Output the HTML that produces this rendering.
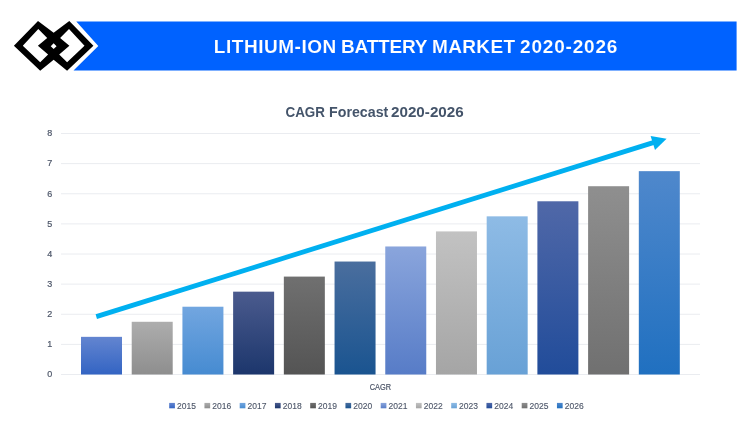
<!DOCTYPE html>
<html><head><meta charset="utf-8"><style>
html,body{margin:0;padding:0;background:#fff;width:750px;height:430px;overflow:hidden}
svg{display:block;filter:blur(0.3px)}
</style></head><body>
<svg width="750" height="430" viewBox="0 0 750 430" font-family="Liberation Sans, sans-serif">
<defs><linearGradient id="g0" x1="0" y1="0" x2="0" y2="1"><stop offset="0" stop-color="#6385d0"/><stop offset="1" stop-color="#3364c3"/></linearGradient><linearGradient id="g1" x1="0" y1="0" x2="0" y2="1"><stop offset="0" stop-color="#adadad"/><stop offset="1" stop-color="#8e8e8e"/></linearGradient><linearGradient id="g2" x1="0" y1="0" x2="0" y2="1"><stop offset="0" stop-color="#72a6e0"/><stop offset="1" stop-color="#468bd1"/></linearGradient><linearGradient id="g3" x1="0" y1="0" x2="0" y2="1"><stop offset="0" stop-color="#4b5b8e"/><stop offset="1" stop-color="#1c366c"/></linearGradient><linearGradient id="g4" x1="0" y1="0" x2="0" y2="1"><stop offset="0" stop-color="#707070"/><stop offset="1" stop-color="#545454"/></linearGradient><linearGradient id="g5" x1="0" y1="0" x2="0" y2="1"><stop offset="0" stop-color="#4a6e9e"/><stop offset="1" stop-color="#1a5490"/></linearGradient><linearGradient id="g6" x1="0" y1="0" x2="0" y2="1"><stop offset="0" stop-color="#8aa5dc"/><stop offset="1" stop-color="#577cc7"/></linearGradient><linearGradient id="g7" x1="0" y1="0" x2="0" y2="1"><stop offset="0" stop-color="#c2c2c2"/><stop offset="1" stop-color="#a5a5a5"/></linearGradient><linearGradient id="g8" x1="0" y1="0" x2="0" y2="1"><stop offset="0" stop-color="#8ebbe5"/><stop offset="1" stop-color="#68a1d6"/></linearGradient><linearGradient id="g9" x1="0" y1="0" x2="0" y2="1"><stop offset="0" stop-color="#5068a8"/><stop offset="1" stop-color="#214c9a"/></linearGradient><linearGradient id="g10" x1="0" y1="0" x2="0" y2="1"><stop offset="0" stop-color="#8f8f8f"/><stop offset="1" stop-color="#707070"/></linearGradient><linearGradient id="g11" x1="0" y1="0" x2="0" y2="1"><stop offset="0" stop-color="#4f88cc"/><stop offset="1" stop-color="#2070c0"/></linearGradient></defs>
<rect width="750" height="430" fill="#fff"/>
<!-- banner -->
<polygon points="76.3,21.4 736.6,21.4 736.6,70.5 73.5,70.5 98.3,45.9" fill="#0062ff"/>
<g fill="#fff" font-weight="bold" font-size="19" stroke="#0062ff" stroke-width="0.1">
<text x="213.8" y="53" letter-spacing="0.54">LITHIUM-ION</text>
<text x="341.0" y="53" letter-spacing="-0.2">BATTERY</text>
<text x="432.0" y="53" letter-spacing="0.36">MARKET</text>
<text x="520.1" y="53" letter-spacing="0.802">2020-2026</text>
</g>
<!-- logo -->
<path fill="#000" fill-rule="evenodd" d="M13.9,45.8 L38,21.1 L53.65,32.8 L69.3,21.1 L93.4,45.8 L67.1,70.7 L53.65,59.7 L40.2,70.7 Z M22.8,45.8 L40.2,62.3 L48.1,54.4 L37.9,45.8 L47.2,38.1 L38.3,29.1 Z M84.5,45.8 L67.1,62.3 L59.2,54.4 L69.4,45.8 L60.1,38.1 L69,29.1 Z M50.75,46.2 L53.65,43.3 L56.55,46.2 L53.65,49.1 Z"/>
<!-- chart title -->
<g fill="#44546a" font-weight="bold" font-size="14.8">
<text x="285.5" y="117.4" textLength="39.5" lengthAdjust="spacingAndGlyphs">CAGR</text>
<text x="329" y="117.4" textLength="59.3" lengthAdjust="spacingAndGlyphs">Forecast</text>
<text x="391" y="117.4" textLength="72.7" lengthAdjust="spacingAndGlyphs">2020-2026</text>
</g>
<g><line x1="61" y1="374.50" x2="700" y2="374.50" stroke="#eaecf0" stroke-width="1"/><line x1="61" y1="344.38" x2="700" y2="344.38" stroke="#eaecf0" stroke-width="1"/><line x1="61" y1="314.25" x2="700" y2="314.25" stroke="#eaecf0" stroke-width="1"/><line x1="61" y1="284.12" x2="700" y2="284.12" stroke="#eaecf0" stroke-width="1"/><line x1="61" y1="254.00" x2="700" y2="254.00" stroke="#eaecf0" stroke-width="1"/><line x1="61" y1="223.88" x2="700" y2="223.88" stroke="#eaecf0" stroke-width="1"/><line x1="61" y1="193.75" x2="700" y2="193.75" stroke="#eaecf0" stroke-width="1"/><line x1="61" y1="163.62" x2="700" y2="163.62" stroke="#eaecf0" stroke-width="1"/><line x1="61" y1="133.50" x2="700" y2="133.50" stroke="#eaecf0" stroke-width="1"/></g>
<g fill="#4d5669" font-size="9" stroke="#4d5669" stroke-width="0.2"><text x="52.2" y="377.30" text-anchor="end">0</text><text x="52.2" y="347.18" text-anchor="end">1</text><text x="52.2" y="317.05" text-anchor="end">2</text><text x="52.2" y="286.93" text-anchor="end">3</text><text x="52.2" y="256.80" text-anchor="end">4</text><text x="52.2" y="226.68" text-anchor="end">5</text><text x="52.2" y="196.55" text-anchor="end">6</text><text x="52.2" y="166.43" text-anchor="end">7</text><text x="52.2" y="136.30" text-anchor="end">8</text></g>
<g><rect x="81.00" y="336.84" width="41" height="37.66" fill="url(#g0)"/><rect x="131.71" y="321.78" width="41" height="52.72" fill="url(#g1)"/><rect x="182.42" y="306.72" width="41" height="67.78" fill="url(#g2)"/><rect x="233.13" y="291.66" width="41" height="82.84" fill="url(#g3)"/><rect x="283.84" y="276.59" width="41" height="97.91" fill="url(#g4)"/><rect x="334.55" y="261.53" width="41" height="112.97" fill="url(#g5)"/><rect x="385.26" y="246.47" width="41" height="128.03" fill="url(#g6)"/><rect x="435.97" y="231.41" width="41" height="143.09" fill="url(#g7)"/><rect x="486.68" y="216.34" width="41" height="158.16" fill="url(#g8)"/><rect x="537.39" y="201.28" width="41" height="173.22" fill="url(#g9)"/><rect x="588.10" y="186.22" width="41" height="188.28" fill="url(#g10)"/><rect x="638.81" y="171.16" width="41" height="203.34" fill="url(#g11)"/></g>
<!-- arrow -->
<line x1="96.3" y1="316.6" x2="654" y2="142.4" stroke="#00b0f0" stroke-width="4.8"/>
<polygon points="666.6,138.7 650.6,135.9 655,149.9" fill="#00b0f0"/>
<text x="369.7" y="390" fill="#4d5669" stroke="#4d5669" stroke-width="0.2" font-size="8.2" textLength="21.3" lengthAdjust="spacingAndGlyphs">CAGR</text>
<g fill="#4d5669" font-size="8.5" stroke="#4d5669" stroke-width="0.12"><rect x="169.20" y="402.9" width="5.7" height="5.4" fill="url(#g0)" stroke="none"/><text x="177.10" y="408.6">2015</text><rect x="204.45" y="402.9" width="5.7" height="5.4" fill="url(#g1)" stroke="none"/><text x="212.35" y="408.6">2016</text><rect x="239.70" y="402.9" width="5.7" height="5.4" fill="url(#g2)" stroke="none"/><text x="247.60" y="408.6">2017</text><rect x="274.95" y="402.9" width="5.7" height="5.4" fill="url(#g3)" stroke="none"/><text x="282.85" y="408.6">2018</text><rect x="310.20" y="402.9" width="5.7" height="5.4" fill="url(#g4)" stroke="none"/><text x="318.10" y="408.6">2019</text><rect x="345.45" y="402.9" width="5.7" height="5.4" fill="url(#g5)" stroke="none"/><text x="353.35" y="408.6">2020</text><rect x="380.70" y="402.9" width="5.7" height="5.4" fill="url(#g6)" stroke="none"/><text x="388.60" y="408.6">2021</text><rect x="415.95" y="402.9" width="5.7" height="5.4" fill="url(#g7)" stroke="none"/><text x="423.85" y="408.6">2022</text><rect x="451.20" y="402.9" width="5.7" height="5.4" fill="url(#g8)" stroke="none"/><text x="459.10" y="408.6">2023</text><rect x="486.45" y="402.9" width="5.7" height="5.4" fill="url(#g9)" stroke="none"/><text x="494.35" y="408.6">2024</text><rect x="521.70" y="402.9" width="5.7" height="5.4" fill="url(#g10)" stroke="none"/><text x="529.60" y="408.6">2025</text><rect x="556.95" y="402.9" width="5.7" height="5.4" fill="url(#g11)" stroke="none"/><text x="564.85" y="408.6">2026</text></g>
</svg>
</body></html>
